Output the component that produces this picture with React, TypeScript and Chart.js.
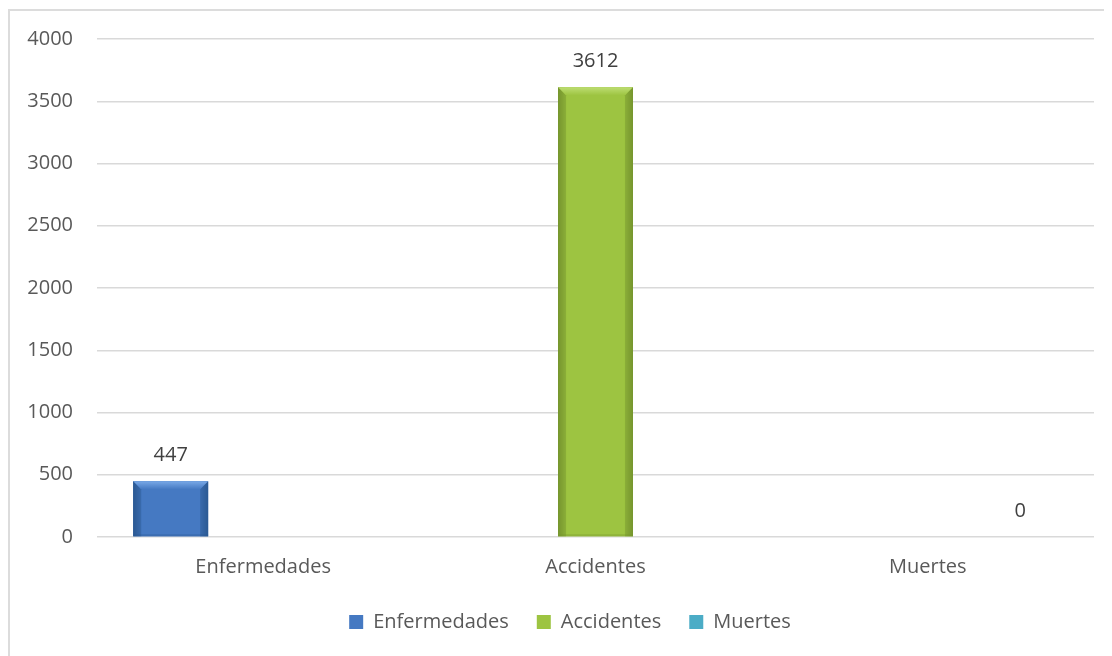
import React, { useEffect, useRef } from "react";
import { Chart, registerables } from "chart.js";

Chart.register(...registerables);

const categories = ["Enfermedades", "Accidentes", "Muertes"];
const seriesNames = ["Enfermedades", "Accidentes", "Muertes"];
const enfermedadesValues = [447, null, null];
const accidentesValues = [null, 3612, null];
const muertesValues = [null, null, 0];
const yMin = 0;
const yMax = 4000;
const yStep = 500;

const mainColors = ["#4579c2", "#9dc441", "#4bacc6"];
const topColors = ["#78a8e6", "#bddd72", "#7fcce0"];
const edgeColors = ["#2b5993", "#76952e", "#2f879f"];

const FONT = "'Open Sans', 'Noto Sans', sans-serif";

const bevelPlugin = {
  id: "bevel",
  afterDatasetsDraw(chart: any) {
    const ctx = chart.ctx;
    ctx.save();
    chart.data.datasets.forEach((ds: any, i: number) => {
      const meta = chart.getDatasetMeta(i);
      meta.data.forEach((el: any, j: number) => {
        const v = ds.data[j];
        if (v === null || v === undefined) return;
        const { x, y, base, width } = el.getProps(["x", "y", "base", "width"], true);
        const left = x - width / 2;
        const right = x + width / 2;
        const top = Math.min(y, base);
        const bottom = Math.max(y, base);
        const h = bottom - top;
        if (h < 1) return;
        const b = Math.min(8, h / 2);
        const g = ctx.createLinearGradient(left, 0, right, 0);
        g.addColorStop(0, edgeColors[i]);
        g.addColorStop(0.1, mainColors[i]);
        g.addColorStop(0.9, mainColors[i]);
        g.addColorStop(1, edgeColors[i]);
        ctx.fillStyle = g;
        ctx.fillRect(left, top, width, h);
        ctx.globalAlpha = 0.5;
        ctx.fillStyle = edgeColors[i];
        ctx.beginPath();
        ctx.moveTo(left, top);
        ctx.lineTo(left + b, top + b);
        ctx.lineTo(left + b, bottom);
        ctx.lineTo(left, bottom);
        ctx.closePath();
        ctx.fill();
        ctx.beginPath();
        ctx.moveTo(right, top);
        ctx.lineTo(right - b, top + b);
        ctx.lineTo(right - b, bottom);
        ctx.lineTo(right, bottom);
        ctx.closePath();
        ctx.fill();
        ctx.globalAlpha = 1;
        const tg = ctx.createLinearGradient(0, top, 0, top + b);
        tg.addColorStop(0, topColors[i]);
        tg.addColorStop(1, mainColors[i]);
        ctx.fillStyle = tg;
        ctx.beginPath();
        ctx.moveTo(left, top);
        ctx.lineTo(right, top);
        ctx.lineTo(right - b, top + b);
        ctx.lineTo(left + b, top + b);
        ctx.closePath();
        ctx.fill();
        ctx.globalAlpha = 0.35;
        ctx.fillStyle = edgeColors[i];
        ctx.fillRect(left, bottom - 2, width, 2);
        ctx.globalAlpha = 1;
      });
    });
    ctx.restore();
  },
};

const dataLabelPlugin = {
  id: "dataLabels",
  afterDatasetsDraw(chart: any) {
    const ctx = chart.ctx;
    ctx.save();
    ctx.font = `20px ${FONT}`;
    ctx.fillStyle = "#404040";
    ctx.textAlign = "center";
    ctx.textBaseline = "middle";
    chart.data.datasets.forEach((ds: any, i: number) => {
      const meta = chart.getDatasetMeta(i);
      meta.data.forEach((el: any, j: number) => {
        const v = ds.data[j];
        if (v === null || v === undefined) return;
        const { x, y } = el.getProps(["x", "y"], true);
        ctx.fillText(String(v), x, y - 26);
      });
    });
    ctx.restore();
  },
};

export default function App() {
  const canvasRef = useRef<HTMLCanvasElement | null>(null);

  useEffect(() => {
    if (!canvasRef.current) return;
    const seriesData = [enfermedadesValues, accidentesValues, muertesValues];
    const chart = new Chart(canvasRef.current, {
      type: "bar",
      data: {
        labels: categories,
        datasets: seriesNames.map((name, i) => ({
          label: name,
          data: seriesData[i],
          backgroundColor: mainColors[i],
          borderColor: edgeColors[i],
          borderWidth: 0,
          categoryPercentage: 0.835,
          barPercentage: 0.81,
        })),
      },
      options: {
        responsive: false,
        animation: false,
        devicePixelRatio: 1,
        layout: { padding: { top: 28, bottom: 29, left: 0, right: 0 } },
        plugins: {
          legend: {
            position: "bottom",
            labels: {
              boxWidth: 14,
              boxHeight: 14,
              padding: 28,
              color: "#595959",
              font: { family: FONT, size: 20 },
            },
          },
          tooltip: { enabled: false },
        },
        scales: {
          x: {
            grid: { display: false, drawTicks: false },
            border: { display: false },
            ticks: {
              color: "#595959",
              padding: 18,
              font: { family: FONT, size: 20 },
            },
            afterFit: (s: any) => {
              s.height = 47;
            },
          },
          y: {
            min: yMin,
            max: yMax,
            grid: {
              color: "#d9d9d9",
              lineWidth: 1.5,
              drawTicks: true,
              tickLength: 20,
              tickColor: "rgba(0,0,0,0)",
            },
            border: { display: false },
            ticks: {
              stepSize: yStep,
              color: "#595959",
              padding: 4,
              font: { family: FONT, size: 20 },
              callback: (v: any) => String(v),
            },
            afterFit: (s: any) => {
              s.width = 87;
            },
          },
          yRight: {
            position: "right",
            display: true,
            grid: { display: false, drawTicks: false },
            border: { display: false },
            ticks: { display: false },
            afterFit: (s: any) => {
              s.width = 36;
            },
          },
        },
      },
      plugins: [bevelPlugin, dataLabelPlugin],
    });
    return () => chart.destroy();
  }, []);

  return (
    <div style={{ position: "relative", width: 1104, height: 648, overflow: "hidden" }}>
      <div
        style={{
          position: "absolute",
          left: 0,
          top: 1,
          width: 1120,
          height: 660,
          border: "2px solid #dcdcdc",
        }}
      >
        <canvas
          ref={canvasRef}
          width={1120}
          height={660}
          style={{ display: "block", width: 1120, height: 660 }}
        />
      </div>
    </div>
  );
}
